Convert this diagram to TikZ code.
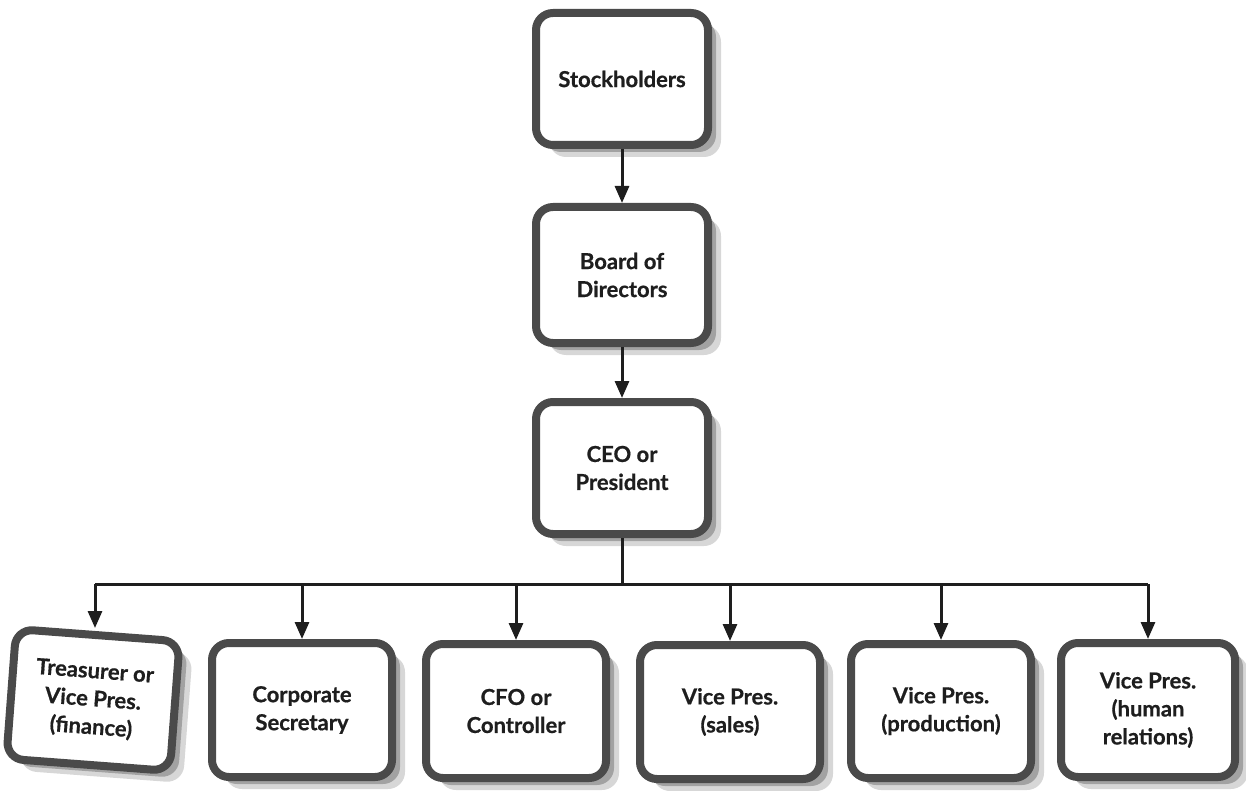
\documentclass[tikz,border=0pt]{standalone}
\usepackage{fontspec}
\setmainfont{Lato}
\newfontfamily\boxfont[FakeBold=0.6]{Lato Bold}
\usetikzlibrary{arrows.meta,shadows}
\definecolor{bordc}{HTML}{4A4A4A}
\definecolor{txtc}{HTML}{1E1E1E}
\definecolor{shadc}{HTML}{8C8C8C}
\begin{document}
\begin{tikzpicture}[x=1pt,y=-1pt,
  orgbox/.style={draw=bordc, line width=8pt, rounded corners=17pt, fill=white,
    align=center, text=txtc, font=\fontsize{22}{28}\selectfont\boxfont,
    inner sep=0pt,
    drop shadow={shadow xshift=13pt, shadow yshift=-12pt, fill=shadc, opacity=.35},
    drop shadow={shadow xshift=8pt, shadow yshift=-7pt, fill=shadc, opacity=.7}},
  topbox/.style={orgbox, minimum width=172pt, minimum height=132pt},
  lowbox/.style={orgbox, minimum width=180pt, minimum height=134pt},
  conn/.style={draw=txtc, line width=3pt},
  arr/.style={conn, -{Triangle[length=17pt, width=14pt]}}
]
\useasboundingbox (0,0) rectangle (1246,791);

\node[topbox] (sh) at (622,79) {Stockholders};
\node[topbox, minimum height=136pt] (bd) at (622,275) {Board of\\Directors};
\node[topbox] (ceo) at (622,468) {CEO or\\President};

\node[lowbox, minimum width=164pt, minimum height=130pt, rotate=-4.3] (tr) at (93,700) {Treasurer or\\Vice Pres.\\(finance)};
\node[lowbox] (cs) at (302,710) {Corporate\\Secretary};
\node[lowbox] (cfo) at (516,711) {CFO or\\Controller};
\node[lowbox] (vs) at (730,712) {Vice Pres.\\(sales)};
\node[lowbox] (vp) at (941,711) {Vice Pres.\\(production)};
\node[lowbox, minimum width=174pt] (hr) at (1148,710) {Vice Pres.\\(human\\relations)};

\coordinate (bus) at (622,584);
\coordinate (trtop) at (95,628);

\draw[arr] (sh.south) -- (bd.north);
\draw[arr] (bd.south) -- (ceo.north);
\draw[conn] (ceo.south) -- (bus);
\draw[conn] (trtop |- bus) -- (hr.north |- bus);
\draw[arr] (trtop |- bus) -- (trtop);
\draw[arr] (cs.north |- bus) -- (cs.north);
\draw[arr] (cfo.north |- bus) -- (cfo.north);
\draw[arr] (vs.north |- bus) -- (vs.north);
\draw[arr] (vp.north |- bus) -- (vp.north);
\draw[arr] (hr.north |- bus) -- (hr.north);
\end{tikzpicture}
\end{document}
